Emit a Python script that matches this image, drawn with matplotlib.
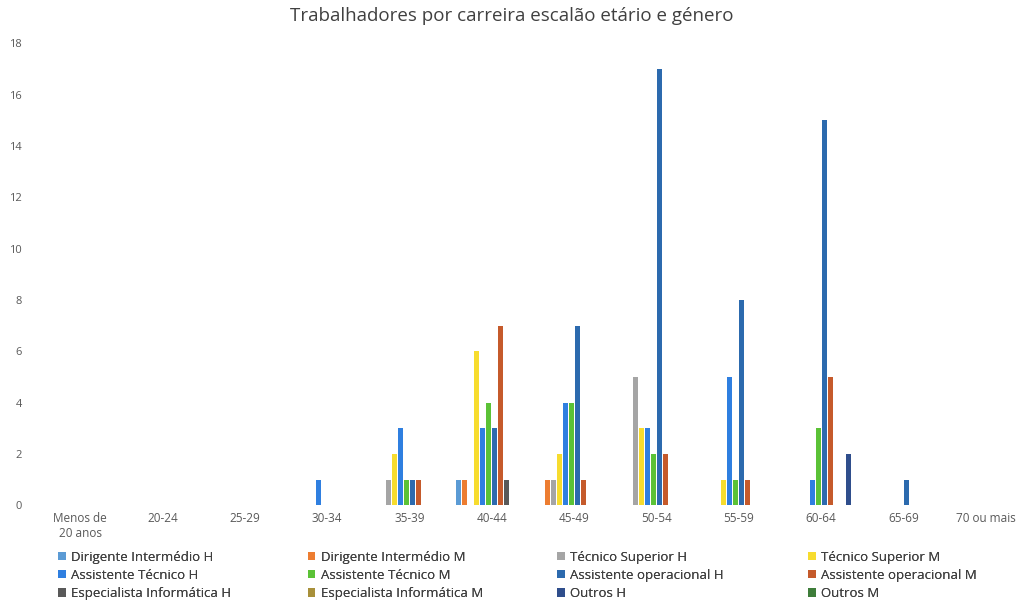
import matplotlib
matplotlib.use("Agg")
import matplotlib.pyplot as plt
import numpy as np

plt.rcParams['font.family'] = ['Open Sans', 'DejaVu Sans']

categories = ["Menos de\n20 anos", "20-24", "25-29", "30-34", "35-39", "40-44",
              "45-49", "50-54", "55-59", "60-64", "65-69", "70 ou mais"]

series_names = ["Dirigente Intermédio H", "Dirigente Intermédio M",
                "Técnico Superior H", "Técnico Superior M",
                "Assistente Técnico H", "Assistente Técnico M",
                "Assistente operacional H", "Assistente operacional M",
                "Especialista Informática H", "Especialista Informática M",
                "Outros H", "Outros M"]

dirigente_h = [0, 0, 0, 0, 0, 1, 0, 0, 0, 0, 0, 0]
dirigente_m = [0, 0, 0, 0, 0, 1, 1, 0, 0, 0, 0, 0]
tecnico_sup_h = [0, 0, 0, 0, 1, 0, 1, 5, 0, 0, 0, 0]
tecnico_sup_m = [0, 0, 0, 0, 2, 6, 2, 3, 1, 0, 0, 0]
assist_tec_h = [0, 0, 0, 1, 3, 3, 4, 3, 5, 1, 0, 0]
assist_tec_m = [0, 0, 0, 0, 1, 4, 4, 2, 1, 3, 0, 0]
assist_op_h = [0, 0, 0, 0, 1, 3, 7, 17, 8, 15, 1, 0]
assist_op_m = [0, 0, 0, 0, 1, 7, 1, 2, 1, 5, 0, 0]
espec_inf_h = [0, 0, 0, 0, 0, 1, 0, 0, 0, 0, 0, 0]
espec_inf_m = [0, 0, 0, 0, 0, 0, 0, 0, 0, 0, 0, 0]
outros_h = [0, 0, 0, 0, 0, 0, 0, 0, 0, 2, 0, 0]
outros_m = [0, 0, 0, 0, 0, 0, 0, 0, 0, 0, 0, 0]

values = [dirigente_h, dirigente_m, tecnico_sup_h, tecnico_sup_m,
          assist_tec_h, assist_tec_m, assist_op_h, assist_op_m,
          espec_inf_h, espec_inf_m, outros_h, outros_m]

colors = ["#5B9BD5", "#ED7D31", "#A5A5A5", "#F7DC2E",
          "#2F7FE0", "#5BC236", "#2C6AAE", "#C55A2B",
          "#595959", "#A8903A", "#2F4E8C", "#3E7D3A"]

fig = plt.figure(figsize=(10.23, 6.0), dpi=100)
ax = fig.add_axes([0.038, 0.158, 0.962, 0.770])

x = np.arange(len(categories))
n = len(values)
step = 0.0728
width = 0.06
for i, (vals, name, c) in enumerate(zip(values, series_names, colors)):
    ax.bar(x + (i - (n - 1) / 2) * step, vals, width=width, color=c,
           label=name, linewidth=0)

ax.set_xlim(-0.5, 11.45)
ax.set_ylim(0, 18)
ax.set_yticks(range(0, 19, 2))
ax.set_xticks(x)
ax.set_xticklabels(categories, fontsize=8.5, color="#595959")
ax.tick_params(axis='y', labelsize=8, labelcolor="#595959", length=0, pad=12)
ax.tick_params(axis='x', length=0, pad=5)
for s in ax.spines.values():
    s.set_visible(False)

fig.suptitle("Trabalhadores por carreira escalão etário e género", y=0.988,
             fontsize=13.5, color="#404040")

handles, labels = ax.get_legend_handles_labels()
ncol = 4
col_x = [0.045, 0.289, 0.533, 0.778]
for c in range(ncol):
    idx = [r * ncol + c for r in range(3)]
    leg = fig.legend([handles[k] for k in idx], [labels[k] for k in idx],
                     loc="lower left", bbox_to_anchor=(col_x[c], -0.02),
                     ncol=1, frameon=False, fontsize=9.5, labelcolor="#404040",
                     handlelength=0.6, handleheight=0.6, handletextpad=0.4,
                     labelspacing=0.4)
    fig.add_artist(leg)

fig.savefig("out.png", dpi=100)
